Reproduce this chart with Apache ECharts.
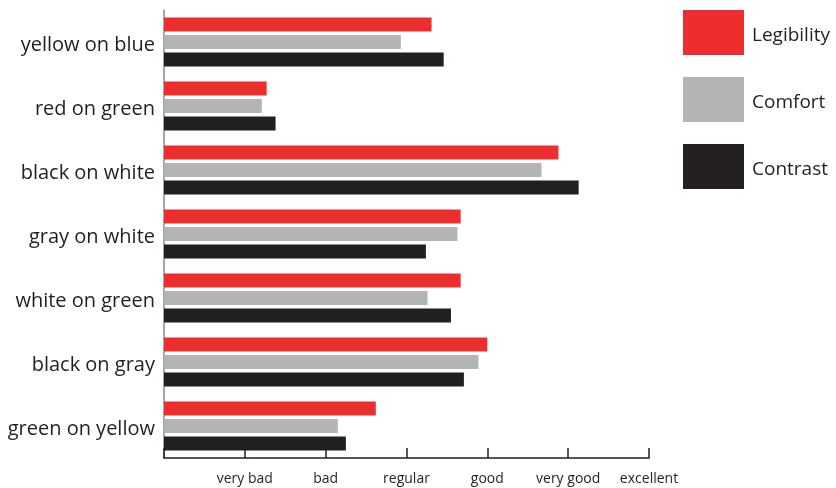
<!DOCTYPE html>
<html>
<head>
<meta charset="utf-8">
<script src="https://cdn.jsdelivr.net/npm/echarts@6/dist/echarts.min.js"></script>
<style>
html,body{margin:0;padding:0;background:#fff;}
#chart{width:836px;height:488px;}
</style>
</head>
<body>
<div id="chart"></div>
<script>
const categories = ['yellow on blue','red on green','black on white','gray on white','white on green','black on gray','green on yellow'];
const legibility = [3.31, 1.27, 4.88, 3.67, 3.67, 4.00, 2.62];
const comfort    = [2.93, 1.21, 4.67, 3.63, 3.26, 3.89, 2.15];
const contrast   = [3.46, 1.38, 5.13, 3.24, 3.55, 3.71, 2.25];
const tickLabels = ['', 'very bad', 'bad', 'regular', 'good', 'very good', 'excellent'];

const FONT = 'Open Sans';
const chart = echarts.init(document.getElementById('chart'), null, {renderer:'canvas'});
chart.setOption({
  animation:false,
  backgroundColor:'#ffffff',
  textStyle:{fontFamily:FONT},
  legend:{
    orient:'vertical', left:678, top:5,
    itemWidth:61, itemHeight:45, itemGap:22,
    icon:'rect',
    formatter:'{a|{name}}',
    textStyle:{fontSize:19, color:'#231f20', fontFamily:FONT,
      rich:{a:{fontSize:19, color:'#231f20', fontFamily:FONT, padding:[6,0,0,3]}}},
    data:['Legibility','Comfort','Contrast']
  },
  grid:{left:164, right:187, top:10, bottom:30, containLabel:false},
  xAxis:{
    type:'value', min:0, max:6, interval:1,
    axisLine:{show:true, lineStyle:{color:'#231f20', width:1.5}},
    axisTick:{show:true, inside:true, length:10, lineStyle:{color:'#231f20', width:1.5}},
    splitLine:{show:false},
    axisLabel:{margin:14, fontSize:14, color:'#231f20', fontFamily:FONT,
      formatter:function(v){return tickLabels[Math.round(v)] || '';}}
  },
  yAxis:{
    type:'category', inverse:true, data:categories,
    axisLine:{show:true, lineStyle:{color:'#8a8a8a', width:1.5}},
    axisTick:{show:false},
    axisLabel:{margin:9, color:'#231f20', fontFamily:FONT,
      formatter:function(v){return '{a|' + v + '}';},
      rich:{a:{fontSize:20, color:'#231f20', fontFamily:FONT, padding:[6,0,0,0]}}}
  },
  series:[
    {name:'Legibility', type:'bar', data:legibility, barWidth:14, barGap:'25%', itemStyle:{color:'#ed2e2f'}},
    {name:'Comfort', type:'bar', data:comfort, barWidth:14, barGap:'25%', itemStyle:{color:'#b3b4b6'}},
    {name:'Contrast', type:'bar', data:contrast, barWidth:14, barGap:'25%', itemStyle:{color:'#231f20'}}
  ]
});
</script>
</body>
</html>
